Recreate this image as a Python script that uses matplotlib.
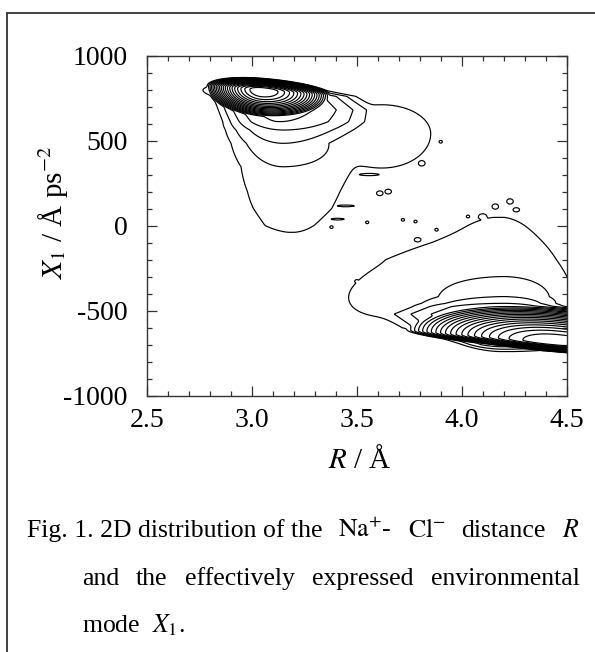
import numpy as np
import matplotlib
matplotlib.use('Agg')
import matplotlib.pyplot as plt
from matplotlib.patches import Rectangle
from matplotlib.ticker import MultipleLocator, FixedLocator, FixedFormatter

plt.rcParams['font.family'] = ['Liberation Serif', 'DejaVu Serif']
plt.rcParams['mathtext.fontset'] = 'stix'
plt.rcParams['axes.unicode_minus'] = False

# ---------------- data ----------------
x_ticks = [2.5, 3.0, 3.5, 4.0, 4.5]
x_tick_labels = ['2.5', '3.0', '3.5', '4.0', '4.5']
y_ticks = [-1000, -500, 0, 500, 1000]
y_tick_labels = ['-1000', '-500', '0', '500', '1000']

# log-density.
# dense cores (upper: contact pair, lower: solvent separated pair)
core_R0 = [3.05, 4.45]
core_X0 = [795, -690]
core_sR_left = [0.07, 0.19]
core_sR_right = [0.09, 0.30]
core_sX_down = [45, 14]
core_sX_up = [19, 60]
core_tilt = [-100, -110]

# envelope of the upper distribution: ridge log-density, centre and widths vs X1
upper_X = [-80, -40, 0, 100, 200, 346, 484, 562, 611, 680, 760, 820, 870]
upper_logp = [-8.0, -7.0, -6.93, -6.85, -6.77, -6.65, -6.3, -5.95, -5.6, -5.4, -5.4, -6.5, -9.0]
upper_Rc = [3.19, 3.19, 3.18, 3.20, 3.19, 3.15, 3.15, 3.15, 3.13, 3.12, 3.12, 3.10, 3.10]
upper_wl = [0.30, 0.30, 0.31, 0.35, 0.31, 0.24, 0.21, 0.19, 0.16, 0.156, 0.17, 0.30, 0.30]
upper_wr = [0.30, 0.30, 0.31, 0.33, 0.34, 0.40, 0.26, 0.28, 0.28, 0.27, 0.21, 0.15, 0.15]

# envelope of the lower distribution
lower_X = [-760, -741, -700, -600, -520, -477, -457, -418, -300, -200, -100, 0, 50, 90]
lower_logp = [-9.0, -7.0, -6.0, -5.4, -5.4, -5.6, -5.95, -6.3, -6.65, -6.77, -6.87, -6.95, -7.0, -8.0]
lower_Rc = [4.20, 4.20, 4.20, 4.20, 4.20, 4.20, 4.20, 4.20, 4.20, 4.20, 4.19, 4.18, 4.18, 4.18]
lower_wl = [0.14, 0.14, 0.14, 0.27, 0.33, 0.30, 0.33, 0.37, 0.50, 0.74, 0.55, 0.47, 0.47, 0.47]
lower_wr = [0.30, 0.30, 0.30, 0.30, 0.25, 0.20, 0.21, 0.26, 0.36, 0.37, 0.39, 0.38, 0.38, 0.38]

# side lobes (upper: towards larger R, lower: towards smaller R)
lobe_R0 = [3.62, 3.90]
lobe_X0 = [540, -290]
lobe_sR_left = [0.30, 0.62]
lobe_sR_right = [0.30, 0.40]
lobe_sX_down = [260, 300]
lobe_sX_up = [220, 268]
lobe_tilt = [0, 300]
lobe_logp = [-6.7, -6.75]

# small isolated islands
island_R = [3.81, 3.90, 3.56, 3.61, 3.65, 3.45, 3.41, 3.38, 3.55, 3.72, 3.78,
            3.88, 3.79, 3.80, 3.76, 3.50, 4.03, 4.10, 4.16, 4.23, 4.26, 3.18]
island_X = [366, 493, 300, 190, 200, 116, 38, -9, 19, 34, 24,
            -24, -83, -180, -249, -327, 54, 54, 112, 142, 93, -15]
island_sR = [0.02, 0.01, 0.06, 0.02, 0.02, 0.05, 0.04, 0.01, 0.01, 0.01, 0.01,
             0.01, 0.02, 0.02, 0.01, 0.01, 0.01, 0.025, 0.02, 0.02, 0.02, 0.03]
island_sX = [20, 10, 8, 18, 18, 6, 6, 10, 10, 10, 10,
             10, 16, 16, 10, 10, 10, 20, 20, 20, 16, 15]
island_logp = [-6.7] * len(island_R)

contour_levels_ln = [-7.0, -6.65, -6.3, -5.95, -5.6, -5.25, -4.9, -4.55, -4.2,
                     -3.85, -3.5, -3.15, -2.8, -2.45, -2.1, -1.75, -1.4, -1.05,
                     -0.7, -0.35]

caption_line1 = ['Fig. 1. 2D distribution of the', r'$\mathrm{Na}^{+}$-',
                 r'$\mathrm{Cl}^{-}$', 'distance', r'$R$']
caption_line2 = ['and', 'the', 'effectively', 'expressed', 'environmental']
caption_line3 = r'mode  $X_1$.'

# ---------------- field ----------------
Rg = np.linspace(2.45, 4.8, 720)
Xg = np.linspace(-1050, 1050, 720)
RR, XX = np.meshgrid(Rg, Xg)

parts = []
for r0, x0, srl, srr, sxd, sxu, tilt in zip(core_R0, core_X0, core_sR_left,
                                            core_sR_right, core_sX_down,
                                            core_sX_up, core_tilt):
    dR = RR - r0
    dX = XX - (x0 + tilt * dR)
    sr = np.where(dR < 0, srl, srr)
    sx = np.where(dX < 0, sxd, sxu)
    parts.append(-0.5 * ((dR / sr) ** 2 + (dX / sx) ** 2))

for xs, gs, cs, wls, wrs in [(upper_X, upper_logp, upper_Rc, upper_wl, upper_wr),
                             (lower_X, lower_logp, lower_Rc, lower_wl, lower_wr)]:
    g = np.interp(XX, xs, gs)
    c = np.interp(XX, xs, cs)
    d = RR - c
    w = np.where(d < 0, np.interp(XX, xs, wls), np.interp(XX, xs, wrs))
    parts.append(g - 0.5 * (d / w) ** 2)

for r0, x0, srl, srr, sxd, sxu, tilt, a in zip(lobe_R0, lobe_X0, lobe_sR_left,
                                               lobe_sR_right, lobe_sX_down,
                                               lobe_sX_up, lobe_tilt, lobe_logp):
    dR = RR - r0
    dX = XX - (x0 + tilt * dR)
    sr = np.where(dR < 0, srl, srr)
    sx = np.where(dX < 0, sxd, sxu)
    parts.append(a - 0.5 * ((dR / sr) ** 2 + (dX / sx) ** 2))

for r0, x0, sr, sx, a in zip(island_R, island_X, island_sR, island_sX, island_logp):
    parts.append(a - 0.5 * (((RR - r0) / sr) ** 2 + ((XX - x0) / sx) ** 2))

P = np.stack(parts)
k = 15.0
m = P.max(axis=0)
F = m + np.log(np.exp(k * (P - m)).sum(axis=0)) / k

# ---------------- figure ----------------
W, H = 595, 652
fig = plt.figure(figsize=(W / 100, H / 100), dpi=100)
ax = fig.add_axes([146.7 / W, 1 - 395.7 / H, 420 / W, 340.2 / H])

ax.contour(RR, XX, F, levels=contour_levels_ln, colors='black',
           linewidths=0.85, linestyles='solid')

ax.set_xlim(2.5, 4.5)
ax.set_ylim(-1000, 1000)
ax.xaxis.set_major_locator(FixedLocator(x_ticks))
ax.xaxis.set_major_formatter(FixedFormatter(x_tick_labels))
ax.yaxis.set_major_locator(FixedLocator(y_ticks))
ax.yaxis.set_major_formatter(FixedFormatter(y_tick_labels))
ax.xaxis.set_minor_locator(MultipleLocator(0.1))
ax.yaxis.set_minor_locator(MultipleLocator(100))
ax.tick_params(which='both', direction='in', top=True, right=True,
               color='#333333', width=0.9)
ax.tick_params(which='major', length=7)
ax.tick_params(which='minor', length=3.6)
ax.tick_params(axis='x', which='major', labelsize=20, pad=8.5)
ax.tick_params(axis='y', which='major', labelsize=20, pad=14)
for s in ax.spines.values():
    s.set_color('#333333')
    s.set_linewidth(1.0)

fig.text(360 / W, 1 - 468 / H, r'$R$ / Å', ha='center', va='baseline', fontsize=21)
fig.text(52.5 / W, 1 - 212.5 / H, r'$X_1$ / Å ps$^{-2}$', rotation=90,
         ha='center', va='center', fontsize=21)

# outer frame (only top and left edges visible)
fig.add_artist(Rectangle((7 / W, -0.2), 1.2, (1 - 13.3 / H) + 0.2,
                         transform=fig.transFigure, fill=False,
                         ec='#333333', lw=1.3))

renderer = fig.canvas.get_renderer()


def justify(tokens, x0, x1, y, size):
    ts = [fig.text(0, 1 - y / H, t, fontsize=size, ha='left', va='baseline')
          for t in tokens]
    ws = [t.get_window_extent(renderer).width for t in ts]
    gap = (x1 - x0 - sum(ws)) / (len(ts) - 1)
    x = x0
    for t, w in zip(ts, ws):
        t.set_x(x / W)
        x += w + gap


justify(caption_line1, 27.3, 579, 536.7, 18.5)
justify(caption_line2, 81.7, 580, 585, 18.5)
fig.text(81.7 / W, 1 - 632 / H, caption_line3, fontsize=18.5, ha='left', va='baseline')

fig.savefig('out.png', dpi=100)
